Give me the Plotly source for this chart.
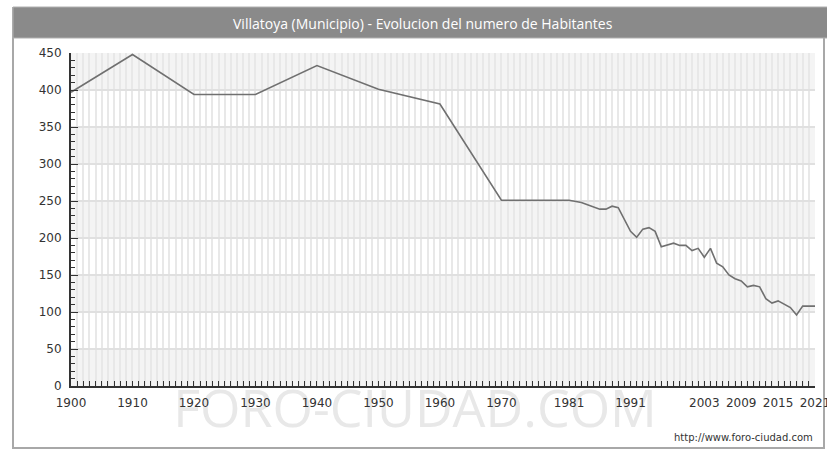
import plotly.graph_objects as go

# ---- data ----
YEARS = [1900, 1910, 1920, 1930, 1940, 1950, 1960, 1970,
         1981, 1982, 1983, 1984, 1985, 1986, 1987, 1988, 1989, 1990,
         1991, 1992, 1993, 1994, 1995, 1996, 1997, 1998, 1999, 2000,
         2001, 2002, 2003, 2004, 2005, 2006, 2007, 2008, 2009, 2010,
         2011, 2012, 2013, 2014, 2015, 2016, 2017, 2018, 2019, 2020, 2021]
HABITANTES = [397, 448, 394, 394, 433, 401, 381, 251,
              251, 250, 248, 245, 242, 239, 239, 243, 241, 225,
              209, 201, 212, 214, 209, 188, 190, 193, 190, 190,
              183, 186, 174, 186, 166, 161, 150, 145, 142, 134,
              136, 134, 118, 112, 115, 110, 106, 96, 108, 108, 108]
X_TICKS = [1900, 1910, 1920, 1930, 1940, 1950, 1960, 1970, 1981, 1991, 2003, 2009, 2015, 2021]
Y_TICKS = [0, 50, 100, 150, 200, 250, 300, 350, 400, 450]
TITLE = "Villatoya (Municipio) - Evolucion del numero de Habitantes"
URL = "http://www.foro-ciudad.com"
WATERMARK = "FORO-CIUDAD.COM"

# ---- layout geometry (pixels) ----
W, H = 827, 450
ML, MR, MT, MB = 71, 12, 53, 64
PW, PH = W - ML - MR, H - MT - MB


def px(x):
    return (x - ML) / PW


def py(y):
    return (H - MB - y) / PH


fig = go.Figure()
fig.add_trace(go.Scatter(x=YEARS, y=HABITANTES, mode="lines",
                         line=dict(color="#707070", width=1.6),
                         hoverinfo="x+y", showlegend=False))

shapes = []
# alternating horizontal bands
for i in range(len(Y_TICKS) - 1):
    if i % 2 == 0:
        shapes.append(dict(type="rect", xref="paper", yref="y", x0=0, x1=1,
                           y0=Y_TICKS[i], y1=Y_TICKS[i + 1], fillcolor="#f4f4f4",
                           line=dict(width=0), layer="below"))
# outer frame
shapes.append(dict(type="rect", xref="paper", yref="paper", x0=px(13), x1=px(824),
                   y0=py(448), y1=py(8), line=dict(color="#a8a8a8", width=2),
                   fillcolor="rgba(0,0,0,0)", layer="below"))
# title bar
shapes.append(dict(type="rect", xref="paper", yref="paper", x0=px(13), x1=px(830),
                   y0=py(38), y1=py(7), fillcolor="#8a8a8a",
                   line=dict(color="#b0b0b0", width=1), layer="below"))
# watermark (below axis labels)
shapes.append(dict(type="rect", xref="paper", yref="paper", x0=px(150), x1=px(680),
                   y0=py(432), y1=py(388), fillcolor="rgba(0,0,0,0)",
                   line=dict(width=0), layer="below",
                   label=dict(text=WATERMARK, textposition="middle center",
                              font=dict(family="Open Sans", size=52, color="#e8e8e8"))))

fig.update_layout(
    width=W, height=H,
    margin=dict(l=ML, r=MR, t=MT, b=MB, pad=0, autoexpand=False),
    paper_bgcolor="white", plot_bgcolor="white",
    shapes=shapes,
    font=dict(family="DejaVu Sans", size=12, color="#333333"),
    annotations=[
        dict(text=TITLE, xref="paper", yref="paper", x=px(423), y=py(23),
             xanchor="center", yanchor="middle", showarrow=False,
             font=dict(family="Open Sans", size=14, color="white")),
        dict(text=URL, xref="paper", yref="paper", x=px(815), y=py(437),
             xanchor="right", yanchor="middle", showarrow=False,
             font=dict(family="DejaVu Sans", size=10, color="#333333")),
    ],
    xaxis=dict(range=[YEARS[0], YEARS[-1]], tickmode="array", tickvals=X_TICKS,
               ticktext=[str(v) for v in X_TICKS], ticklabeloverflow="allow",
               ticklabelstandoff=5, automargin=False,
               showline=True, linecolor="#333333", linewidth=2,
               ticks="inside", ticklen=5, tickcolor="#333333", tickwidth=1,
               showgrid=True, gridcolor="#e8e8e8", gridwidth=2,
               minor=dict(dtick=1, tick0=1900, ticks="inside", ticklen=5,
                          tickcolor="#333333", showgrid=True,
                          gridcolor="#e8e8e8", gridwidth=2),
               zeroline=False, fixedrange=True),
    yaxis=dict(range=[Y_TICKS[0], Y_TICKS[-1]], tickmode="array", tickvals=Y_TICKS,
               ticklabelstandoff=5, automargin=False,
               showline=True, linecolor="#333333", linewidth=2,
               ticks="inside", ticklen=7, tickcolor="#333333", tickwidth=1,
               showgrid=True, gridcolor="#e0e0e0", gridwidth=2,
               minor=dict(dtick=10, tick0=0, ticks="inside", ticklen=4,
                          tickcolor="#333333", showgrid=False),
               zeroline=False, fixedrange=True),
)

fig.write_html("out.html", config={"displayModeBar": False},
               post_script="document.body.style.margin='0';")
